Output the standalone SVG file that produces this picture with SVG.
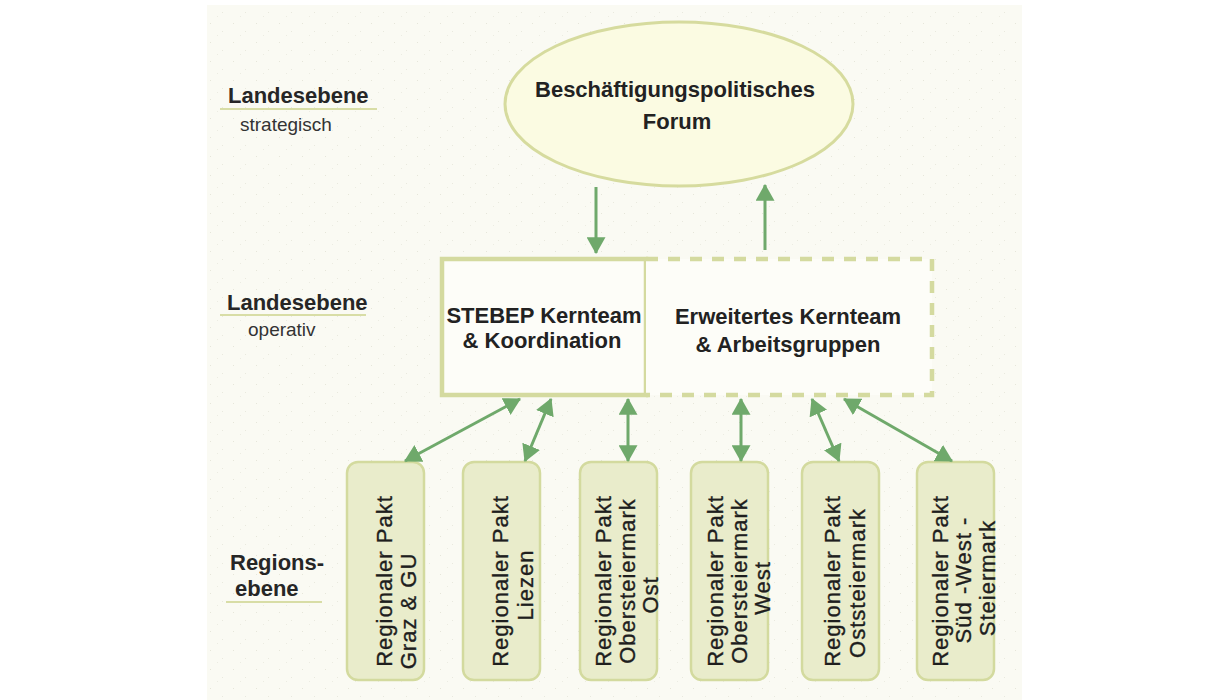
<svg xmlns="http://www.w3.org/2000/svg" width="1225" height="700" viewBox="0 0 1225 700">
<style>
.lbl{font-family:"Liberation Sans",Arial,sans-serif;font-weight:bold;font-size:22px;fill:#262626}
.sub{font-family:"Liberation Sans",Arial,sans-serif;font-size:19px;fill:#333}
.ntx{font-family:"Liberation Sans",Arial,sans-serif;font-weight:bold;font-size:22px;fill:#222;text-anchor:middle}
.btx{font-family:"Liberation Sans",Arial,sans-serif;font-size:22px;letter-spacing:1px;fill:#1e1e1e;stroke:#1e1e1e;stroke-width:0.35;text-anchor:middle}
.uline{stroke:#D8DDA6;stroke-width:2}
.box{fill:#E9ECCB;stroke:#D3DA9E;stroke-width:2.5}
.conn{stroke:#6FA96B;stroke-width:3;fill:none}
</style>
<defs>
<pattern id="dots" width="23" height="19" patternUnits="userSpaceOnUse">
<rect x="3" y="4" width="1" height="1" fill="#E6E6DA"/>
<rect x="15" y="12" width="1" height="1" fill="#E9E9DE"/>
<rect x="10" y="16" width="1" height="1" fill="#ECECE2"/>
</pattern>
<marker id="ah" viewBox="0 0 16 18" refX="15" refY="9" markerWidth="17" markerHeight="19" markerUnits="userSpaceOnUse" orient="auto-start-reverse">
<path d="M0,0 L16,9 L0,18 z" fill="#6FA96B"/>
</marker>
</defs>
<rect x="0" y="0" width="1225" height="700" fill="#FFFFFF"/>
<rect x="207" y="5" width="815" height="695" fill="#FAFAF3"/>
<rect x="207" y="5" width="815" height="695" fill="url(#dots)"/>

<g id="level-labels">
<text class="lbl" x="228" y="103">Landesebene</text>
<line class="uline" x1="220" y1="109" x2="377" y2="109"/>
<text class="sub" x="240" y="131">strategisch</text>
<text class="lbl" x="227" y="310">Landesebene</text>
<line class="uline" x1="220" y1="315" x2="366" y2="315"/>
<text class="sub" x="248" y="336">operativ</text>
<text class="lbl" x="230" y="570">Regions-</text>
<text class="lbl" x="235" y="596">ebene</text>
<line class="uline" x1="226" y1="602" x2="322" y2="602"/>
</g>

<g id="forum">
<ellipse cx="679" cy="104" rx="174" ry="82" fill="#FBFBE2" stroke="#D6DB9E" stroke-width="3"/>
<text class="ntx" x="675" y="97">Beschäftigungspolitisches</text>
<text class="ntx" x="677" y="129">Forum</text>
</g>

<g id="kernteam">
<rect x="442" y="259" width="204" height="136" fill="#FDFDF8" stroke="#D4DA9F" stroke-width="4.5"/>
<text class="ntx" x="544" y="323">STEBEP Kernteam</text>
<text class="ntx" x="542" y="348">&amp; Koordination</text>
</g>

<g id="erweitert">
<path d="M646,259 H932 V395 H646" fill="#FDFDF8" stroke="#D4DA9F" stroke-width="4.5" stroke-dasharray="12 10"/>
<text class="ntx" x="788" y="324">Erweitertes Kernteam</text>
<text class="ntx" x="788" y="352">&amp; Arbeitsgruppen</text>
</g>

<g id="pakt-graz">
<rect class="box" x="347" y="462" width="77" height="218" rx="11"/>
<text class="btx" transform="translate(392,581) rotate(-90)">Regionaler Pakt</text>
<text class="btx" transform="translate(416,611) rotate(-90)">Graz &amp; GU</text>
</g>
<g id="pakt-liezen">
<rect class="box" x="463" y="462" width="77" height="218" rx="11"/>
<text class="btx" transform="translate(508,581) rotate(-90)">Regionaler Pakt</text>
<text class="btx" transform="translate(533,585) rotate(-90)">Liezen</text>
</g>
<g id="pakt-obersteiermark-ost">
<rect class="box" x="580" y="462" width="77" height="218" rx="11"/>
<text class="btx" transform="translate(611,581) rotate(-90)">Regionaler Pakt</text>
<text class="btx" transform="translate(635,581) rotate(-90)">Obersteiermark</text>
<text class="btx" transform="translate(658,595) rotate(-90)">Ost</text>
</g>
<g id="pakt-obersteiermark-west">
<rect class="box" x="691" y="462" width="77" height="218" rx="11"/>
<text class="btx" transform="translate(723,581) rotate(-90)">Regionaler Pakt</text>
<text class="btx" transform="translate(747,581) rotate(-90)">Obersteiermark</text>
<text class="btx" transform="translate(770,588) rotate(-90)">West</text>
</g>
<g id="pakt-oststeiermark">
<rect class="box" x="802" y="462" width="77" height="218" rx="11"/>
<text class="btx" transform="translate(840,581) rotate(-90)">Regionaler Pakt</text>
<text class="btx" transform="translate(865,583) rotate(-90)">Oststeiermark</text>
</g>
<g id="pakt-sued-west">
<rect class="box" x="917" y="462" width="77" height="218" rx="11"/>
<text class="btx" transform="translate(948,581) rotate(-90)">Regionaler Pakt</text>
<text class="btx" transform="translate(971,580) rotate(-90)">Süd -West -</text>
<text class="btx" transform="translate(995,578) rotate(-90)">Steiermark</text>
</g>

<g id="connectors">
<line class="conn" x1="596" y1="187" x2="596" y2="253" marker-end="url(#ah)"/>
<line class="conn" x1="765" y1="250" x2="765" y2="185" marker-end="url(#ah)"/>
<line class="conn" x1="520" y1="399" x2="405" y2="461" marker-start="url(#ah)" marker-end="url(#ah)"/>
<line class="conn" x1="551" y1="399" x2="525" y2="461" marker-start="url(#ah)" marker-end="url(#ah)"/>
<line class="conn" x1="628" y1="399" x2="628" y2="461" marker-start="url(#ah)" marker-end="url(#ah)"/>
<line class="conn" x1="741" y1="399" x2="741" y2="461" marker-start="url(#ah)" marker-end="url(#ah)"/>
<line class="conn" x1="812" y1="399" x2="839" y2="461" marker-start="url(#ah)" marker-end="url(#ah)"/>
<line class="conn" x1="844" y1="399" x2="952" y2="461" marker-start="url(#ah)" marker-end="url(#ah)"/>
</g>
</svg>
